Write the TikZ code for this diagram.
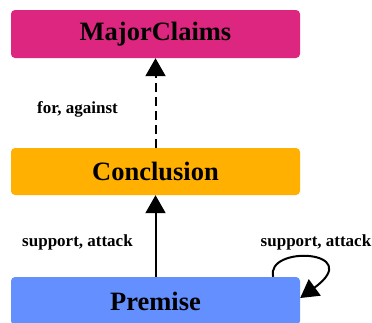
\documentclass[tikz,border=0pt]{standalone}
\usepackage{fontspec}
\setmainfont{Liberation Serif}
\usetikzlibrary{arrows.meta,calc}
\definecolor{mcfill}{HTML}{DC267F}
\definecolor{confill}{HTML}{FFB000}
\definecolor{prefill}{HTML}{648FFF}
\begin{document}
\begin{tikzpicture}[x=1pt,y=-1pt,
  box/.style={draw=none,rounded corners=4pt,minimum width=289pt,minimum height=48pt,
    inner sep=0pt,font=\fontsize{26.5}{30}\selectfont\bfseries},
  lbl/.style={font=\fontsize{17}{20}\selectfont\bfseries,inner sep=0pt},
  rel/.style={line width=2pt,-{Triangle[width=20pt,length=18pt]}}]
\useasboundingbox (0,0) rectangle (372,322);
\node[box,fill=mcfill] (mc) at (155.5,34) {MajorClaims};
\node[box,fill=confill,minimum height=47pt] (con) at (155.5,171.5) {Conclusion};
\node[box,fill=prefill] (pre) at (155.5,301) {Premise};
% relation labels
\node[lbl] (fa) at (77.5,109) {for, against};
\node[lbl] (sa1) at (77.5,242) {support, attack};
\node[lbl] (sa2) at (316,242) {support, attack};
% relations between the argument components
\draw[rel,dash pattern=on 9pt off 5pt] (con.north) -- (mc.south);
\draw[rel] (pre.north) -- (con.south);
\draw[rel] ($(pre.north east)+(-27,0)$) .. controls +(-8,-32) and +(66,-48) .. ($(pre.east)+(0,-3)$);
\end{tikzpicture}
\end{document}
